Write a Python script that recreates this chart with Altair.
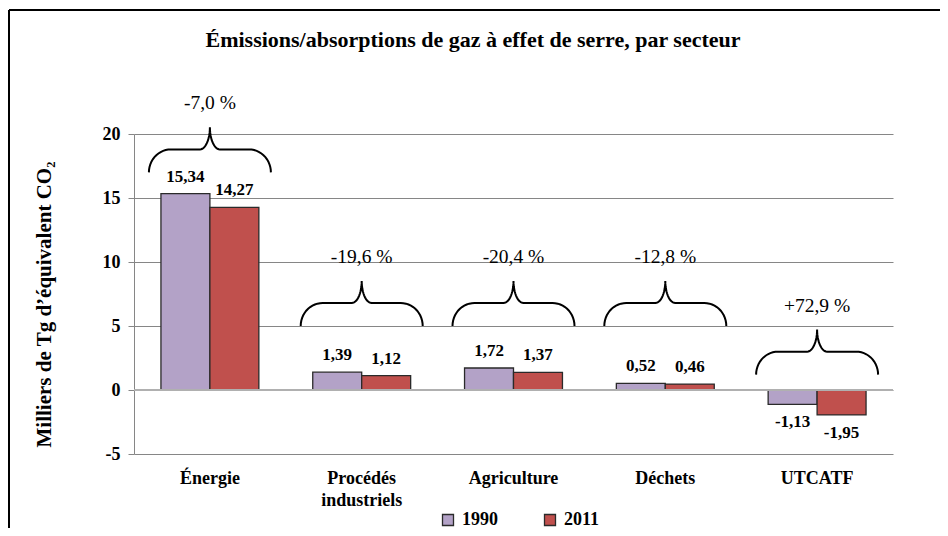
import altair as alt
import numpy as np
import pandas as pd

# ---------------- data ----------------
sectors = ["Énergie", "Procédés industriels", "Agriculture", "Déchets", "UTCATF"]
years = ["1990", "2011"]
v1990 = [15.34, 1.39, 1.72, 0.52, -1.13]
v2011 = [14.27, 1.12, 1.37, 0.46, -1.95]
changes = ["-7,0 %", "-19,6 %", "-20,4 %", "-12,8 %", "+72,9 %"]
brace_level = [17.0, 5.0, 5.0, 5.0, 1.2]   # y value where each brace's feet sit
y_ticks = [-5, 0, 5, 10, 15, 20]
colors = ["#B3A2C7", "#C0504D"]
title_text = "Émissions/absorptions de gaz à effet de serre, par secteur"
y_title = "Milliers de Tg d’équivalent CO₂"

FONT = "Liberation Serif"
W, H = 759, 320
Y_DOM = [-5, 20]
PX_X = W / len(sectors)            # pixels per band
PX_Y = H / (Y_DOM[1] - Y_DOM[0])   # pixels per y unit

rows = []
for s, a, b in zip(sectors, v1990, v2011):
    rows.append({"sector": s, "year": years[0], "value": a})
    rows.append({"sector": s, "year": years[1], "value": b})
bars_df = pd.DataFrame(rows)
bars_df["label"] = bars_df["value"].map(lambda v: f"{v:.2f}".replace(".", ","))


# curly brace outline (pixel geometry -> data units)
def brace_shape(half_w=61, h=45, r_end=22, mid=23, tip_r=10, n=14):
    t = np.linspace(0, np.pi / 2, n)
    x1 = (-half_w + r_end) - r_end * np.cos(t)
    y1 = mid * np.sin(t)
    a = np.linspace(-np.pi / 2, 0, n)
    x2 = -tip_r + tip_r * np.cos(a)
    y2 = h + (h - mid) * np.sin(a)
    xl = np.concatenate([x1, x2])
    yl = np.concatenate([y1, y2])
    xr = -xl[::-1][1:]
    yr = yl[::-1][1:]
    return np.concatenate([xl, xr]), np.concatenate([yl, yr])


bx, by = brace_shape()
brows = []
for i, (s, lvl) in enumerate(zip(sectors, brace_level)):
    for k, (px, py) in enumerate(zip(bx, by)):
        brows.append({"sector": s, "k": k,
                      "bx": i + 0.5 + px / PX_X,
                      "by": lvl + py / PX_Y})
brace_df = pd.DataFrame(brows)
pct_df = pd.DataFrame({
    "sector": sectors,
    "cx": [i + 0.5 for i in range(len(sectors))],
    "cy": [lvl + (45 + 24) / PX_Y for lvl in brace_level],
    "txt": changes,
})

yscale = alt.Scale(domain=Y_DOM, nice=False, zero=False)
xband = alt.Scale(domain=sectors, paddingInner=0.355, paddingOuter=0.1775)
xquant = alt.Scale(domain=[0, len(sectors)], nice=False, zero=False)

base = alt.Chart(bars_df)
xenc = alt.X("sector:N", sort=sectors, scale=xband, title=None,
             axis=alt.Axis(labelExpr="datum.label == 'Procédés industriels' ? ['Procédés', 'industriels'] : datum.label"))

bars = base.mark_bar(stroke="#2a2a2a", strokeWidth=1.3).encode(
    x=xenc,
    xOffset=alt.XOffset("year:N", sort=years),
    y=alt.Y("value:Q", scale=yscale, title=y_title,
            axis=alt.Axis(values=y_ticks)),
    color=alt.Color("year:N", sort=years,
                    scale=alt.Scale(domain=years, range=colors),
                    legend=alt.Legend(title=None, orient="none", direction="horizontal",
                                      legendX=305, legendY=377,
                                      symbolType="square", symbolSize=121,
                                      symbolStrokeColor="#2a2a2a", symbolStrokeWidth=1.3,
                                      labelFont=FONT, labelFontWeight="bold",
                                      labelFontSize=18, labelColor="#000",
                                      labelOffset=5, columnPadding=43, padding=0)),
)

lab_pos = base.transform_filter("datum.value >= 0").mark_text(
    font=FONT, fontWeight="bold", fontSize=17, color="#000", dy=-17, baseline="middle"
).encode(
    x=xenc, xOffset=alt.XOffset("year:N", sort=years),
    y=alt.Y("value:Q", scale=yscale, title=y_title), text="label:N")

lab_neg = base.transform_filter("datum.value < 0").mark_text(
    font=FONT, fontWeight="bold", fontSize=17, color="#000", dy=18, baseline="middle"
).encode(
    x=xenc, xOffset=alt.XOffset("year:N", sort=years),
    y=alt.Y("value:Q", scale=yscale, title=y_title), text="label:N")

zero_line = alt.Chart(pd.DataFrame({"z": [0]})).mark_rule(
    color="#b0b0b0", strokeWidth=2).encode(y=alt.Y("z:Q", scale=yscale, title=y_title))

main = alt.layer(bars, zero_line, lab_pos, lab_neg)

brace = alt.Chart(brace_df).mark_line(color="#000", strokeWidth=2, interpolate="linear").encode(
    x=alt.X("bx:Q", scale=xquant, axis=None),
    y=alt.Y("by:Q", scale=yscale, title=y_title),
    detail="sector:N",
    order="k:Q",
)
pct = alt.Chart(pct_df).mark_text(font=FONT, fontSize=19.5, color="#000", baseline="middle").encode(
    x=alt.X("cx:Q", scale=xquant, axis=None),
    y=alt.Y("cy:Q", scale=yscale, title=y_title),
    text="txt:N",
)
annot = alt.layer(brace, pct)

deco_src = alt.Chart(pd.DataFrame({"t": [title_text]}))
title_mark = deco_src.mark_text(font=FONT, fontWeight="bold", fontSize=22, color="#000",
                                align="center", baseline="middle").encode(
    x=alt.value(339), y=alt.value(-94), text="t:N")
frame_top = deco_src.mark_rule(color="#000", strokeWidth=2).encode(
    x=alt.value(-125), x2=alt.value(806), y=alt.value(-124))
frame_left = deco_src.mark_rule(color="#000", strokeWidth=2).encode(
    x=alt.value(-125), y=alt.value(-124), y2=alt.value(394))
deco = alt.layer(title_mark, frame_top, frame_left)

chart = alt.layer(main, annot, deco).resolve_scale(x="independent").properties(
    width=W, height=H,
    autosize=alt.AutoSizeParams(type="none"),
    padding={"left": 126, "top": 126, "right": 47, "bottom": 74},
    background="#ffffff",
).configure_view(stroke=None).configure_axisX(
    labelFont=FONT, labelFontWeight="bold", labelFontSize=18, labelColor="#000",
    labelAngle=0, labelLineHeight=22, labelPadding=15, ticks=False, domain=False, grid=False,
).configure_axisY(
    labelFont=FONT, labelFontWeight="bold", labelFontSize=18, labelColor="#000",
    labelPadding=8, tickSize=6, tickColor="#868686", domainColor="#868686",
    gridColor="#868686", gridWidth=1,
    labelExpr="'' + datum.value",
    titleFont=FONT, titleFontWeight="bold", titleFontSize=21, titleColor="#000",
    titleAngle=270, titleAlign="center", titleBaseline="middle", titleX=-90, titleY=170,
)

chart.save("out.html", embed_options={"renderer": "svg", "actions": False})
